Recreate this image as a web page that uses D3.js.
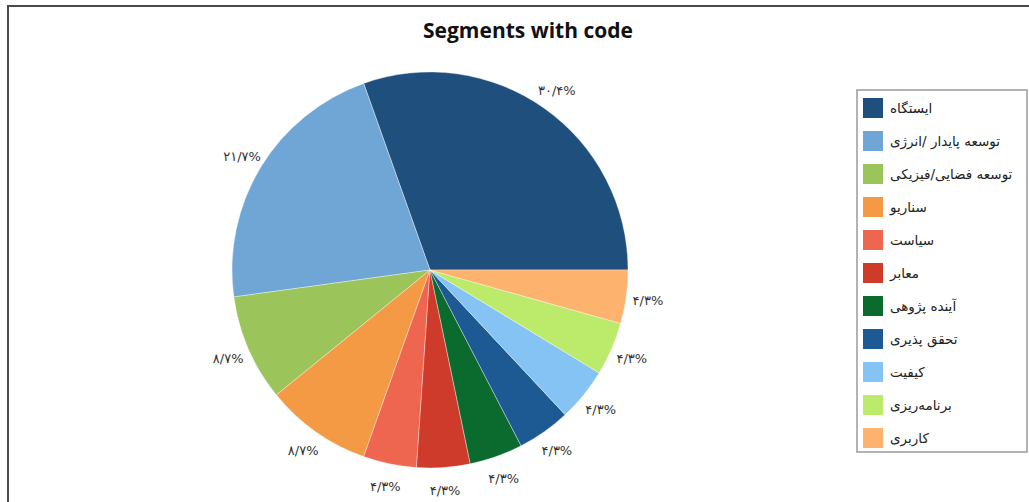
<!DOCTYPE html>
<html>
<head>
<meta charset="utf-8">
<script src="https://cdn.jsdelivr.net/npm/d3@7"></script>
<style>
  body { margin: 0; background: #fff; }
  svg { display: block; }
</style>
</head>
<body>
<script>
// chart data (counts out of 23)
var categories = ["ایستگاه", "توسعه پایدار /انرژی", "توسعه فضایی/فیزیکی", "سناریو", "سیاست",
    "معابر", "آینده پژوهی", "تحقق پذیری", "کیفیت", "برنامه‌ریزی", "کاربری"];
var counts = [7, 5, 2, 2, 1, 1, 1, 1, 1, 1, 1];
var percentLabels = ["۳۰/۴%", "۲۱/۷%", "۸/۷%", "۸/۷%", "۴/۳%", "۴/۳%", "۴/۳%", "۴/۳%", "۴/۳%", "۴/۳%", "۴/۳%"];
var colors = ["#1f4f7c", "#6fa6d6", "#9bc45a", "#f59a44", "#ee6650", "#cf3b2a",
    "#0b6b2f", "#1d5a94", "#86c3f5", "#bcea6b", "#fdb26e"];

var width = 1029, height = 502;
var cx = 430, cy = 270, radius = 198;

var svg = d3.select("body").append("svg")
    .attr("width", width)
    .attr("height", height);

// outer frame
svg.append("rect")
    .attr("x", 8).attr("y", 6)
    .attr("width", 1040).attr("height", 520)
    .attr("fill", "none")
    .attr("stroke", "#4a4a4a")
    .attr("stroke-width", 2);

svg.append("text")
    .attr("x", 528)
    .attr("y", 38)
    .attr("text-anchor", "middle")
    .style("font-family", "'Open Sans', sans-serif")
    .style("font-weight", "bold")
    .style("font-size", "21px")
    .style("fill", "#111")
    .text("Segments with code");

var data = categories.map(function (c, i) {
    return { name: c, value: counts[i], label: percentLabels[i], color: colors[i] };
});

// slices run counter-clockwise starting at 3 o'clock
var pie = d3.pie()
    .sort(null)
    .value(d => d.value)
    .startAngle(Math.PI / 2)
    .endAngle(Math.PI / 2 - 2 * Math.PI);

var arc = d3.arc().innerRadius(0).outerRadius(radius);
var labelArc = d3.arc().innerRadius(radius + 22).outerRadius(radius + 22);

var g = svg.append("g")
    .attr("transform", "translate(" + cx + "," + cy + ")");

var arcs = pie(data);

g.selectAll(".slice")
    .data(arcs)
    .enter()
    .append("path")
    .attr("class", "slice")
    .attr("d", arc)
    .attr("fill", d => d.data.color)
    .attr("stroke", "#fff")
    .attr("stroke-width", 0.6)
    .attr("stroke-opacity", 0.6);

g.selectAll(".pct")
    .data(arcs)
    .enter()
    .append("text")
    .attr("class", "pct")
    .attr("transform", d => "translate(" + labelArc.centroid(d) + ")")
    .attr("dy", "0.4em")
    .attr("text-anchor", "middle")
    .attr("direction", "ltr")
    .style("font-family", "'DejaVu Sans', sans-serif")
    .style("font-size", "13px")
    .style("fill", "#333")
    .text(d => d.data.label);

// legend
var legend = svg.append("g");
legend.append("rect")
    .attr("x", 857).attr("y", 90)
    .attr("width", 170).attr("height", 362)
    .attr("fill", "#fff")
    .attr("stroke", "#9a9a9a")
    .attr("stroke-width", 1.5);

var item = legend.selectAll(".item")
    .data(data)
    .enter()
    .append("g")
    .attr("class", "item")
    .attr("transform", (d, i) => "translate(863," + (98 + i * 33) + ")");

item.append("rect")
    .attr("width", 20).attr("height", 20)
    .attr("fill", d => d.color);

item.append("text")
    .attr("x", 27)
    .attr("y", 15)
    .attr("text-anchor", "start")
    .style("font-family", "'DejaVu Sans', sans-serif")
    .style("font-size", "13.5px")
    .style("fill", "#222")
    .text(d => d.name);
</script>
</body>
</html>
